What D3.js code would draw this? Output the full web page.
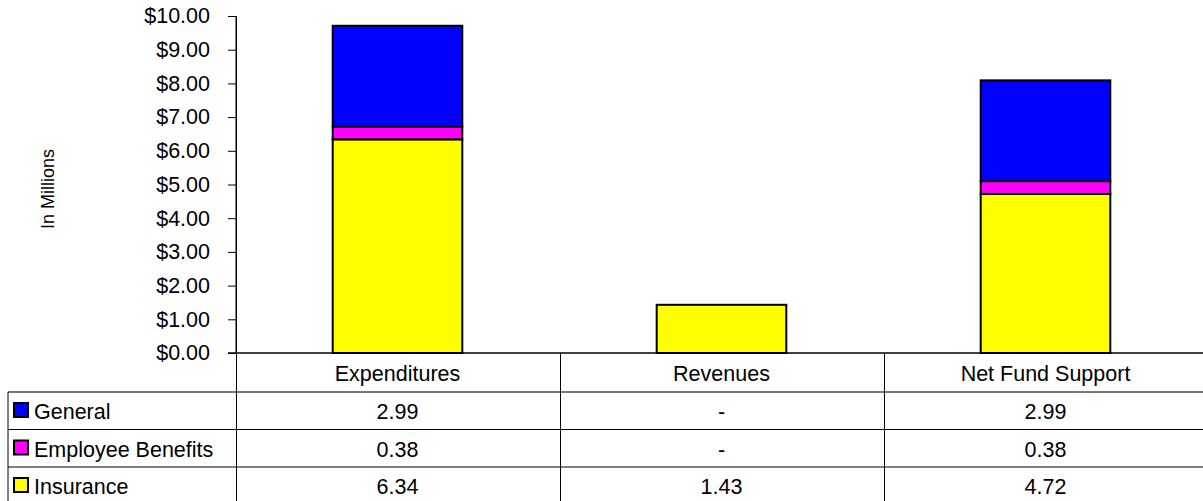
<!DOCTYPE html>
<html>
<head>
<meta charset="utf-8">
<script src="https://cdn.jsdelivr.net/npm/d3@7"></script>
<style>
  body { margin: 0; background: #fff; }
  svg { display: block; font-family: "Liberation Sans", Arial, sans-serif; }
</style>
</head>
<body>
<svg width="1203" height="501"></svg>
<script>
// data
var categories = ['Expenditures', 'Revenues', 'Net Fund Support'];
var seriesNames = ['General', 'Employee Benefits', 'Insurance'];
var seriesColors = ['#0000ff', '#ff00ff', '#ffff00'];
var general = [2.99, 0, 2.99];
var employeeBenefits = [0.38, 0, 0.38];
var insurance = [6.34, 1.43, 4.72];
var tableLabels = [['2.99', '-', '2.99'], ['0.38', '-', '0.38'], ['6.34', '1.43', '4.72']];
var yTicks = [0, 1, 2, 3, 4, 5, 6, 7, 8, 9, 10];

var svg = d3.select('svg');
var fs = 21.5;

var x = d3.scaleBand().domain(categories).range([235.5, 1207.5]);
var y = d3.scaleLinear().domain([0, 10]).range([353, 16]);

// stack from bottom: insurance, benefits, general
var rows = categories.map(function (c, i) {
    return { cat: c, Insurance: insurance[i], 'Employee Benefits': employeeBenefits[i], General: general[i] };
});
var stack = d3.stack().keys(['Insurance', 'Employee Benefits', 'General']);
var layers = stack(rows);
var color = d3.scaleOrdinal().domain(seriesNames).range(seriesColors);

var barW = x.bandwidth() * 0.4;
svg.append('g').selectAll('g')
    .data(layers)
    .join('g')
    .attr('fill', function (d) { return color(d.key); })
    .selectAll('rect')
    .data(function (d) { return d.filter(function (p) { return p[1] - p[0] > 0; }); })
    .join('rect')
    .attr('x', function (d) { return x(d.data.cat) + (x.bandwidth() - barW) / 2; })
    .attr('y', function (d) { return y(d[1]); })
    .attr('width', barW)
    .attr('height', function (d) { return y(d[0]) - y(d[1]); })
    .attr('stroke', '#000')
    .attr('stroke-width', 2);

// y axis
var yAxis = d3.axisLeft(y).tickValues(yTicks).tickFormat(d3.format('$.2f')).tickSize(8).tickPadding(18);
var ga = svg.append('g').attr('transform', 'translate(236,0)').call(yAxis);
ga.select('.domain').attr('d', 'M0,' + y(10) + 'V' + y(0)).attr('stroke', '#000');
ga.selectAll('.tick line').attr('stroke', '#000');
ga.selectAll('text').attr('font-size', fs).attr('fill', '#000').attr('font-family', '"Liberation Sans", Arial, sans-serif');

svg.append('text')
    .attr('transform', 'translate(54,189) rotate(-90)')
    .attr('text-anchor', 'middle')
    .attr('font-size', 18)
    .text('In Millions');

// x axis line
svg.append('line').attr('x1', 228).attr('x2', 1203).attr('y1', y(0)).attr('y2', y(0)).attr('stroke', '#000').attr('stroke-width', 1.5);

// data table
var rowY = [353, 392, 429.5, 467, 504.5];
var tableLeft = 8;

// header labels
svg.append('g').selectAll('text')
    .data(categories)
    .join('text')
    .attr('x', function (d) { return x(d) + x.bandwidth() / 2; })
    .attr('y', (rowY[0] + rowY[1]) / 2 + 8)
    .attr('text-anchor', 'middle')
    .attr('font-size', fs)
    .text(function (d) { return d; });

// horizontal lines
svg.append('line').attr('x1', tableLeft).attr('x2', 1203).attr('y1', rowY[1]).attr('y2', rowY[1]).attr('stroke', '#777').attr('stroke-width', 2);
svg.append('g').selectAll('line')
    .data([rowY[2], rowY[3]])
    .join('line')
    .attr('x1', tableLeft).attr('x2', 1203)
    .attr('y1', function (d) { return d; }).attr('y2', function (d) { return d; })
    .attr('stroke', '#000');

// vertical lines
svg.append('line').attr('x1', tableLeft).attr('x2', tableLeft).attr('y1', rowY[1]).attr('y2', 501).attr('stroke', '#000');
svg.append('g').selectAll('line')
    .data(categories)
    .join('line')
    .attr('x1', function (d) { return Math.round(x(d)) + 0.5; })
    .attr('x2', function (d) { return Math.round(x(d)) + 0.5; })
    .attr('y1', function (d, i) { return i === 0 ? y(10) : rowY[0]; })
    .attr('y2', 501)
    .attr('stroke', '#000');

// legend rows
var legendRows = svg.append('g').selectAll('g')
    .data(seriesNames)
    .join('g')
    .attr('transform', function (d, i) { return 'translate(0,' + rowY[i + 1] + ')'; });
legendRows.append('rect')
    .attr('x', 14).attr('y', 11).attr('width', 14).attr('height', 14)
    .attr('fill', function (d) { return color(d); })
    .attr('stroke', '#000').attr('stroke-width', 2);
legendRows.append('text')
    .attr('x', 34).attr('y', 27)
    .attr('font-size', fs)
    .text(function (d) { return d; });

// cell values
legendRows.each(function (d, i) {
    d3.select(this).selectAll('text.val')
        .data(tableLabels[i])
        .join('text')
        .attr('class', 'val')
        .attr('x', function (v, j) { return x(categories[j]) + x.bandwidth() / 2; })
        .attr('y', 27)
        .attr('text-anchor', 'middle')
        .attr('font-size', fs)
        .text(function (v) { return v; });
});
</script>
</body>
</html>
